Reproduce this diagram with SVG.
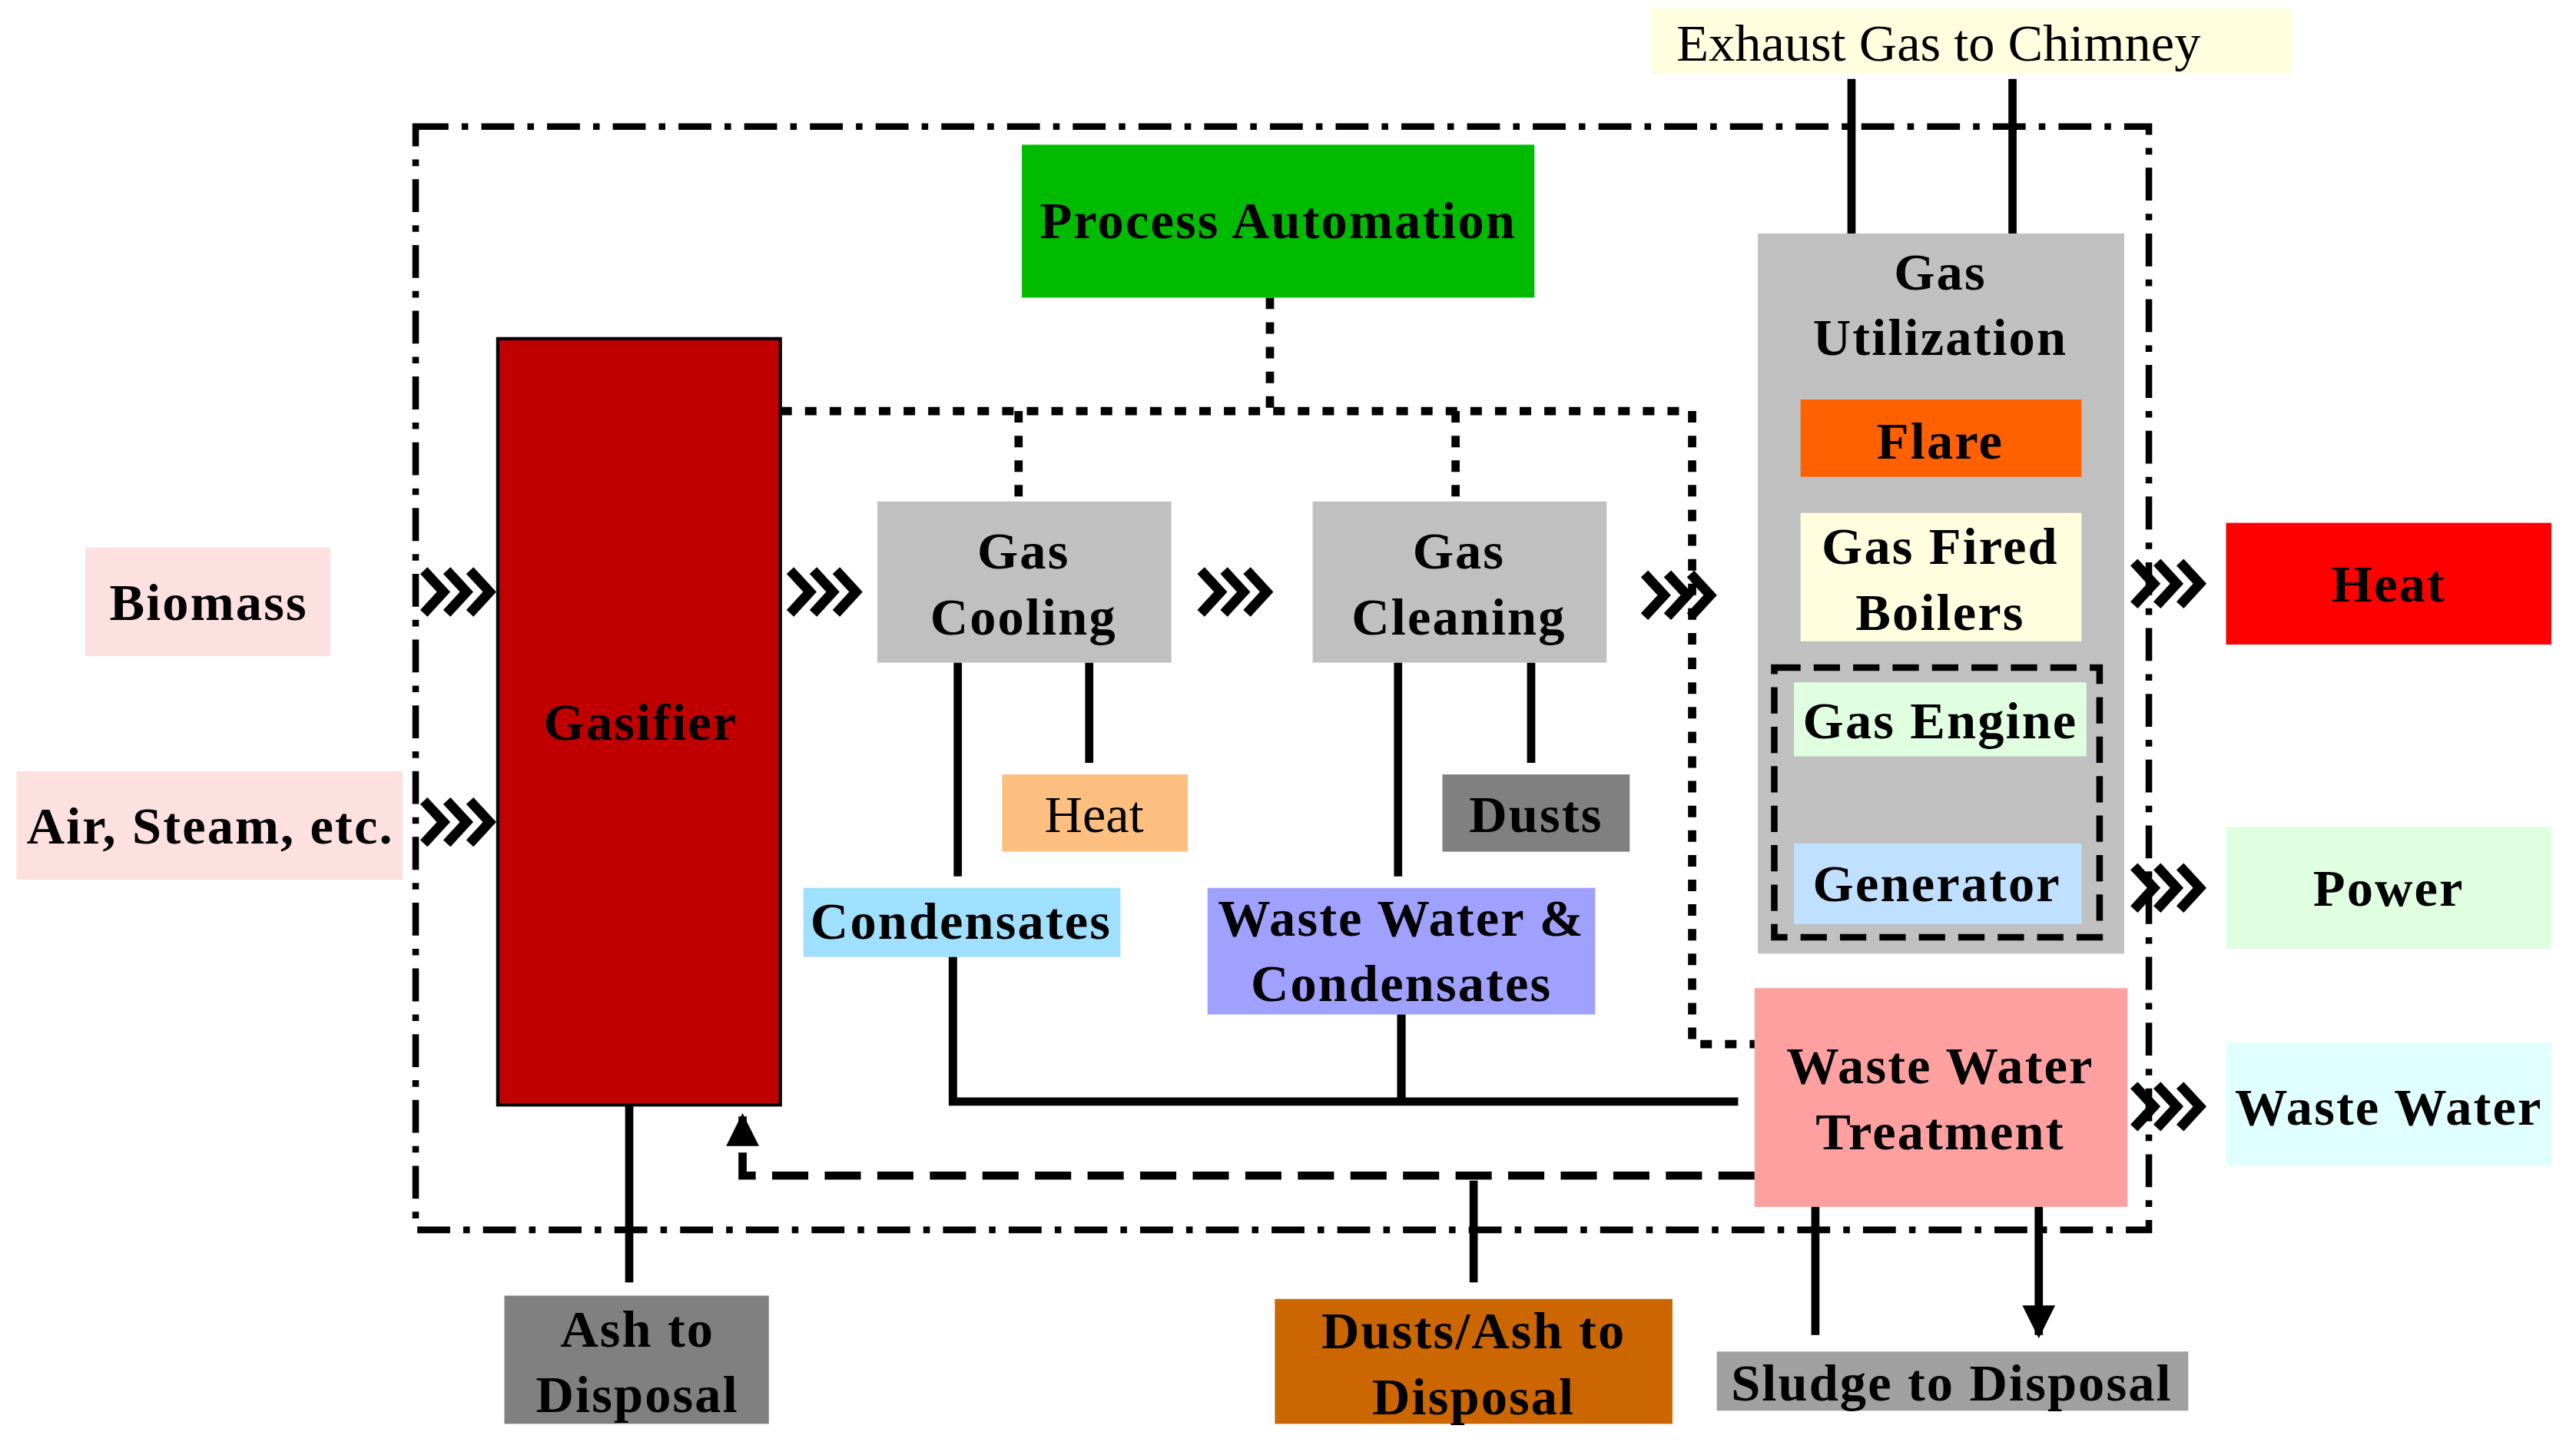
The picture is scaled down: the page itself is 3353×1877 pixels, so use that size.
<svg xmlns="http://www.w3.org/2000/svg" width="3353" height="1877" viewBox="0 0 3353 1877">
<defs>
<style>
text{font-family:"Liberation Serif","Times New Roman",serif;font-size:32px;text-anchor:middle;fill:#000}
.b{font-weight:bold;letter-spacing:1px}
.box{stroke:none}
.ln{fill:none;stroke:#000;stroke-width:5}
.dot{fill:none;stroke:#000;stroke-width:5;stroke-dasharray:7,8}
.chev{fill:none;stroke:#000;stroke-width:6}
</style>
<marker id="ah" viewBox="0 0 10 10" refX="9" refY="5" markerWidth="4" markerHeight="4" orient="auto" markerUnits="strokeWidth"><path d="M0,0L10,5L0,10z" fill="#000"/></marker>
<g id="ch"><path class="chev" d="M0,-13L12,0L0,13M14,-13L26,0L14,13M28,-13L40,0L28,13"/></g>
</defs>
<rect width="3353" height="1877" fill="#fff"/>
<g transform="scale(2.1384,2.1402)">
<g id="connectors">
<rect x="253" y="77" width="1055" height="671" fill="none" stroke="#000" stroke-width="4" stroke-dasharray="20,8,4,8"/>
<path class="dot" d="M773,181V250M475,250H1030V635H1068M620,250V305M886,250V305"/>
<path class="ln" d="M1127,142V48M1225,142V48M583,403V533M663,403V464M851,403V533M932,403V464M1181,460V508M580,582V670H1058M853,617V670M383,672V780M897,718V780M1105,734V812M1241,734V812" marker-end="url(#ah)"/>
<path class="ln" d="M1068,715H452V679" stroke-dasharray="22,10" marker-end="url(#ah)"/>
<path class="ln" d="M580,582V670M853,617V670"/>
<use href="#ch" x="258" y="360"/><use href="#ch" x="258" y="500"/>
<use href="#ch" x="481" y="360"/><use href="#ch" x="731" y="360"/>
<use href="#ch" x="1001" y="362"/><use href="#ch" x="1299" y="355"/>
<use href="#ch" x="1299" y="540"/><use href="#ch" x="1299" y="673"/>
</g>
<g id="exhaust"><rect x="1005" y="5" width="390" height="40" fill="#ffffe0"/><text x="1180" y="37">Exhaust Gas to Chimney</text></g>
<g id="automation"><rect x="622" y="88" width="312" height="93" fill="#00bb00"/><text class="b" x="778" y="145">Process Automation</text></g>
<g id="gasifier"><rect x="303" y="206" width="172" height="466" fill="#c00000" stroke="#000" stroke-width="2"/><text class="b" x="390" y="450">Gasifier</text></g>
<g id="biomass"><rect x="52" y="333" width="149" height="66" fill="#fde0e0"/><text class="b" x="127" y="377">Biomass</text></g>
<g id="air"><rect x="10" y="469" width="235" height="66" fill="#fde0e0"/><text class="b" x="128" y="513">Air, Steam, etc.</text></g>
<g id="cooling"><rect x="534" y="305" width="179" height="98" fill="#c0c0c0"/><text class="b" x="623" y="346">Gas</text><text class="b" x="623" y="386">Cooling</text></g>
<g id="cleaning"><rect x="799" y="305" width="179" height="98" fill="#c0c0c0"/><text class="b" x="888" y="346">Gas</text><text class="b" x="888" y="386">Cleaning</text></g>
<g id="heat1"><rect x="610" y="471" width="113" height="47" fill="#fdbf80"/><text x="666" y="506">Heat</text></g>
<g id="dusts"><rect x="878" y="471" width="114" height="47" fill="#808080"/><text class="b" x="935" y="506">Dusts</text></g>
<g id="condensates"><rect x="489" y="540" width="193" height="42" fill="#a0e0ff"/><text class="b" x="585" y="571">Condensates</text></g>
<g id="wwc"><rect x="735" y="540" width="236" height="77" fill="#a0a0ff"/><text class="b" x="853" y="569">Waste Water &amp;</text><text class="b" x="853" y="609">Condensates</text></g>
<g id="utilization"><rect x="1070" y="142" width="223" height="438" fill="#c0c0c0"/><text class="b" x="1181" y="176">Gas</text><text class="b" x="1181" y="216">Utilization</text>
<rect x="1096" y="243" width="171" height="47" fill="#ff6000"/><text class="b" x="1181" y="279">Flare</text>
<rect x="1096" y="312" width="171" height="78" fill="#ffffe0"/><text class="b" x="1181" y="343">Gas Fired</text><text class="b" x="1181" y="383">Boilers</text>
<rect x="1080" y="406" width="198" height="164" fill="none" stroke="#000" stroke-width="4" stroke-dasharray="16,8"/>
<rect x="1092" y="415" width="178" height="45" fill="#e0ffe0"/><text class="b" x="1181" y="449">Gas Engine</text>
<rect x="1092" y="513" width="175" height="49" fill="#c0e0ff"/><text class="b" x="1179" y="548">Generator</text></g>
<g id="heat2"><rect x="1355" y="318" width="198" height="74" fill="#ff0000"/><text class="b" x="1454" y="366">Heat</text></g>
<g id="power"><rect x="1355" y="503" width="198" height="74" fill="#e0ffe0"/><text class="b" x="1454" y="551">Power</text></g>
<g id="ww"><rect x="1355" y="634" width="198" height="75" fill="#e0ffff"/><text class="b" x="1454" y="684">Waste Water</text></g>
<g id="wwt"><rect x="1068" y="601" width="227" height="133" fill="#ffa0a0"/><text class="b" x="1181" y="659">Waste Water</text><text class="b" x="1181" y="699">Treatment</text></g>
<g id="ash"><rect x="307" y="788" width="161" height="78" fill="#808080"/><text class="b" x="388" y="819">Ash to</text><text class="b" x="388" y="859">Disposal</text></g>
<g id="dustash"><rect x="776" y="790" width="242" height="76" fill="#cc6600"/><text class="b" x="897" y="820">Dusts/Ash to</text><text class="b" x="897" y="860">Disposal</text></g>
<g id="sludge"><rect x="1045" y="822" width="287" height="36" fill="#a0a0a0"/><text class="b" x="1188" y="852">Sludge to Disposal</text></g>
</g>
</svg>
